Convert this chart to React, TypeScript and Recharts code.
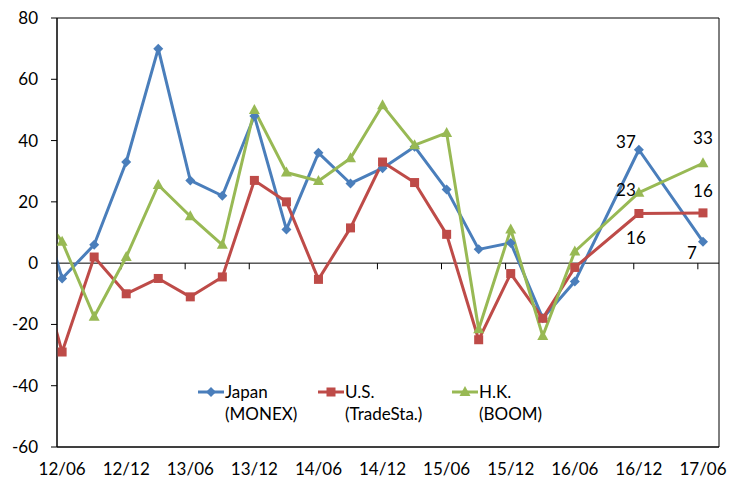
import { LineChart, Line, XAxis, YAxis, ReferenceLine, ReferenceArea, Legend, LabelList } from "recharts"

// quarter ends; the first one lies just outside the visible range (line enters from the left edge)
const periods = [
  "12/03", "12/06", "12/09", "12/12", "13/03", "13/06", "13/09", "13/12", "14/03", "14/06",
  "14/09", "14/12", "15/03", "15/06", "15/09", "15/12", "16/03", "16/06", "16/12", "17/06",
]
const japan = [30, -5, 6, 33, 70, 27, 22, 48, 11, 36, 26, 31, 38, 24, 4.5, 6.6, -18, -6, 37, 7]
const us = [9, -29, 2, -10, -5, -11, -4.5, 27, 20, -5.3, 11.5, 33, 26.3, 9.4, -25, -3.4, -18, -1.4, 16.2, 16.4]
const hk = [21, 7, -17.5, 2, 25.5, 15.3, 6, 50, 29.6, 26.8, 34.2, 51.5, 38.5, 42.5, -21.6, 11, -23.8, 3.8, 23, 32.6]

const seriesKeys = ["japan", "us", "hk"]
const seriesNames = ["Japan", "U.S.", "H.K."]
const seriesSources = ["(MONEX)", "(TradeSta.)", "(BOOM)"]
const labelPeriods = ["16/12", "17/06"]
const yTicks = [-60, -40, -20, 0, 20, 40, 60, 80]

const colors = ["#4A7EBB", "#BE4B48", "#98B954"]
const font = "Lato, 'Open Sans', sans-serif"

const xDomain: [number, number] = [-0.16, 20.5]
const yDomain: [number, number] = [-60, 80]

const toIndex = (p: string) => {
  const [yy, mm] = p.split("/").map(Number)
  return (yy - 12) * 4 + (mm - 6) / 3
}

const data = periods.map((p, i) => ({ x: toIndex(p), period: p, japan: japan[i], us: us[i], hk: hk[i] }))
const xTicks = periods.map(toIndex).filter((v) => v >= 0 && v % 2 === 0)
const xLabel = (v: number) => periods.find((p) => toIndex(p) === v) ?? ""

// label offsets from the point, per series, for the last two periods
const labelOffsets: Record<string, [number, number][]> = {
  japan: [[-13, -8], [-11, 11]],
  us: [[-3, 24], [0, -22]],
  hk: [[-13, -3], [0, -26]],
}

function Marker({ kind, cx, cy, color }: { kind: number; cx: number; cy: number; color: string }) {
  if (kind === 0) {
    const r = 5
    return <path d={`M${cx},${cy - r}L${cx + r},${cy}L${cx},${cy + r}L${cx - r},${cy}Z`} fill={color} />
  }
  if (kind === 1) {
    return <rect x={cx - 4.5} y={cy - 4.5} width={9} height={9} fill={color} />
  }
  return <path d={`M${cx},${cy - 6}L${cx + 5.5},${cy + 4}L${cx - 5.5},${cy + 4}Z`} fill={color} />
}

const legendLeft = [0, 120, 254]

const renderLegend = () => (
  <div style={{ position: "relative", height: 44, fontFamily: font, fontSize: 17, lineHeight: "22px", color: "#000" }}>
    {seriesNames.map((name, i) => (
      <div key={name} style={{ position: "absolute", left: legendLeft[i], top: 0, display: "flex", whiteSpace: "nowrap" }}>
        <svg width={26} height={22}>
          <line x1={0} x2={26} y1={11} y2={11} stroke={colors[i]} strokeWidth={3} />
          <Marker kind={i} cx={13} cy={11} color={colors[i]} />
        </svg>
        <div style={{ marginLeft: 1 }}>
          <div>{name}</div>
          <div>{seriesSources[i]}</div>
        </div>
      </div>
    ))}
  </div>
)

const makeLabel = (key: string) => (props: any) => {
  const { x, y, value, index } = props
  const pos = labelPeriods.indexOf(periods[index])
  if (pos < 0) return null
  const [dx, dy] = labelOffsets[key][pos]
  return (
    <text
      key={`${key}-lbl-${index}`}
      x={x + dx}
      y={y + dy}
      textAnchor="middle"
      dominantBaseline="central"
      fontFamily={font}
      fontSize={17}
      fill="#000"
    >
      {Math.round(value)}
    </text>
  )
}

export default function App() {
  return (
    <div style={{ position: "absolute", left: 0, top: 0, background: "#fff", fontFamily: font }}>
      <LineChart width={729} height={483} data={data} margin={{ top: 18, right: 10, bottom: 0, left: 0 }}>
        <XAxis
          dataKey="x"
          type="number"
          domain={xDomain}
          allowDataOverflow
          ticks={xTicks}
          tickFormatter={xLabel}
          tickLine={false}
          tickSize={0}
          tickMargin={16}
          height={36}
          axisLine={{ stroke: "#000" }}
          tick={{ fill: "#000", fontSize: 17, fontFamily: font }}
        />
        <YAxis
          type="number"
          domain={yDomain}
          ticks={yTicks}
          width={57}
          tickSize={6}
          tickMargin={13}
          axisLine={{ stroke: "#000" }}
          tickLine={{ stroke: "#000" }}
          tick={{ fill: "#000", fontSize: 17, fontFamily: font }}
        />
        {/* plot-area frame */}
        <ReferenceArea
          x1={xDomain[0]}
          x2={xDomain[1]}
          y1={yDomain[0]}
          y2={yDomain[1]}
          fill="none"
          fillOpacity={0}
          stroke="#000"
          strokeWidth={1}
          ifOverflow="visible"
        />
        <ReferenceLine y={0} stroke="#000" strokeWidth={1} />
        {xTicks
          .filter((t) => t > 0)
          .map((t) => (
            <ReferenceLine
              key={`zt-${t}`}
              segment={[
                { x: t - 0.16, y: 0 },
                { x: t - 0.16, y: -2 },
              ]}
              stroke="#000"
              strokeWidth={1}
            />
          ))}
        <Legend
          layout="horizontal"
          verticalAlign="middle"
          align="center"
          content={renderLegend}
          wrapperStyle={{ left: 198, top: 381, width: 420, height: 44 }}
        />
        {seriesKeys.map((key, i) => (
          <Line
            key={key}
            dataKey={key}
            name={`${seriesNames[i]} ${seriesSources[i]}`}
            stroke={colors[i]}
            strokeWidth={3}
            strokeLinejoin="round"
            isAnimationActive={false}
            dot={(p: any) => <Marker key={`${key}-dot-${p.index}`} kind={i} cx={p.cx} cy={p.cy} color={colors[i]} />}
            activeDot={false}
          >
            <LabelList dataKey={key} content={makeLabel(key)} />
          </Line>
        ))}
      </LineChart>
    </div>
  )
}
